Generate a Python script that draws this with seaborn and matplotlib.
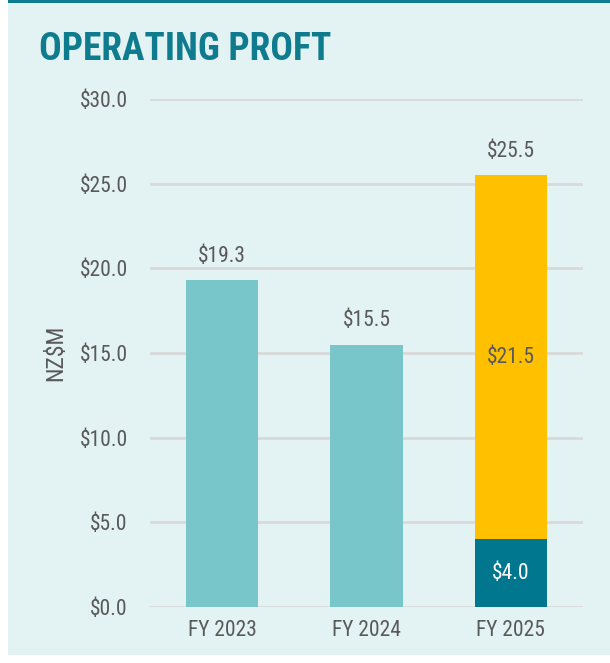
import matplotlib
matplotlib.use("Agg")
import numpy as np
import pandas as pd
import matplotlib.pyplot as plt
import seaborn as sns
from matplotlib.patches import Rectangle
from matplotlib import font_manager

sns.set_theme(style="white")

# fonts - a narrow face close to Arial Narrow
names = {f.name for f in font_manager.fontManager.ttflist}
narrow = "DejaVu Sans"
for cand in ["Liberation Sans Narrow", "Arimo Narrow", "Roboto Condensed", "Archivo Narrow",
             "Barlow Semi Condensed"]:
    if cand in names:
        narrow = cand
        break
plt.rcParams['font.family'] = [narrow, 'DejaVu Sans']

# data
years = ["FY 2023", "FY 2024", "FY 2025"]
totals = [19.3, 15.5, 25.5]
base_part = [0.0, 0.0, 4.0]
top_part = [0.0, 0.0, 21.5]

light = "#78C6CA"
yellow = "#FFC000"
dark = "#00778F"
bg = "#E3F2F3"
grey = "#595959"

df = pd.DataFrame({"year": years, "total": totals, "base": base_part, "top": top_part})

fig = plt.figure(figsize=(6.1, 6.63), dpi=100)
fig.patch.set_facecolor("white")
fig.patches.append(Rectangle((8/610, 8/663), 602/610, 652/663, transform=fig.transFigure,
                             facecolor=bg, edgecolor="none", zorder=-2))
fig.patches.append(Rectangle((8/610, 660/663), 602/610, 3/663, transform=fig.transFigure,
                             facecolor="#0E7C8E", edgecolor="none", zorder=-1))

ax = fig.add_axes([150/610, 1 - 607/663, 433/610, 508/663])
ax.set_facecolor("none")

sns.barplot(data=df, x="year", y="total", hue="year",
            palette=[light, light, yellow], width=0.5, saturation=1,
            legend=False, ax=ax, zorder=3, linewidth=0)
sns.barplot(data=df, x="year", y="base", color=dark, width=0.5, saturation=1,
            ax=ax, zorder=4, linewidth=0)

ax.set_ylim(0, 30)
ax.set_xlim(-0.5, 2.5)
ax.set_yticks(np.arange(0, 31, 5))
ax.set_yticklabels(["${:.1f}".format(v) for v in np.arange(0, 31, 5)])
ax.yaxis.grid(True, color="#D9D9D9", linewidth=2)
ax.set_axisbelow(True)
for s in ax.spines.values():
    s.set_visible(False)
ax.tick_params(axis="both", length=0, labelsize=15.5, colors=grey)
ax.tick_params(axis="y", pad=16)
ax.tick_params(axis="x", pad=9)
ax.set_xlabel("")
ax.set_ylabel("NZ$M", fontsize=17, color=grey, labelpad=9)

# value labels
for i, row in df.iterrows():
    ax.text(i, row["total"] + 0.8, "${:.1f}".format(row["total"]), ha="center", va="bottom",
            fontsize=15.5, color=grey)
    if row["base"] > 0:
        ax.text(i, row["base"] + row["top"] / 2, "${:.1f}".format(row["top"]),
                ha="center", va="center", fontsize=15.5, color=grey, zorder=5)
        ax.text(i, row["base"] / 2, "${:.1f}".format(row["base"]),
                ha="center", va="center", fontsize=15.5, color="white", zorder=5)

fig.text(39/610, 1 - 49/663, "OPERATING PROFT", fontsize=27, fontweight="bold",
         color="#0E7C8E", va="center", ha="left")

plt.savefig("out.png", dpi=100)
